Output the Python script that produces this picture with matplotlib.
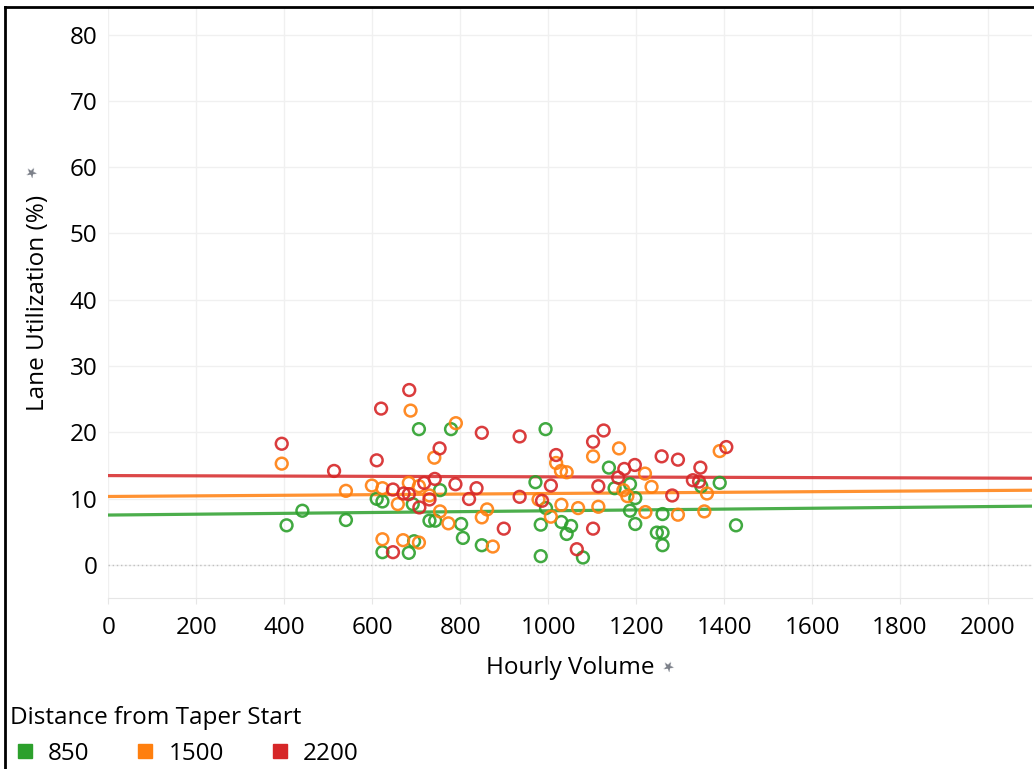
import numpy as np
import matplotlib
matplotlib.use("Agg")
import matplotlib.pyplot as plt
from matplotlib.lines import Line2D

plt.rcParams['font.family'] = ['Open Sans', 'DejaVu Sans']

# distance groups (legend) and their colours
groups = ["850", "1500", "2200"]
colors = ["#2ca02c", "#ff7f0e", "#d62728"]

# hourly volume / lane utilization (%) per group
vol_850 = [405, 441, 540, 610, 623, 706, 779, 754, 692, 730, 743, 802, 806, 849,
           623, 683, 695, 971, 994, 983, 995, 1030, 1042, 1052, 983, 1079, 1138,
           1151, 1186, 1198, 1186, 1198, 1260, 1247, 1260, 1260, 1348, 1390, 1427]
util_850 = [6.0, 8.2, 6.8, 10.0, 9.6, 20.5, 20.5, 11.3, 9.2, 6.7, 6.7, 6.2, 4.1, 3.0,
            1.95, 1.85, 3.6, 12.5, 20.5, 6.1, 8.6, 6.5, 4.7, 5.9, 1.35, 1.15, 14.7,
            11.6, 12.2, 10.1, 8.2, 6.2, 7.7, 4.9, 4.9, 3.0, 11.9, 12.4, 6.0]

vol_1500 = [394, 687, 790, 741, 540, 599, 623, 683, 706, 730, 658, 754, 773, 849,
            861, 874, 623, 670, 706, 978, 1018, 1029, 1042, 1030, 1006, 1068, 1114,
            1102, 1161, 1220, 1235, 1180, 1171, 1221, 1295, 1355, 1361, 1390]
util_1500 = [15.3, 23.3, 21.4, 16.2, 11.2, 12.0, 11.6, 12.4, 11.9, 10.5, 9.2, 8.1, 6.3, 7.2,
             8.4, 2.8, 3.9, 3.76, 3.4, 9.9, 15.4, 14.2, 14.0, 9.1, 7.3, 8.6, 8.8,
             16.4, 17.6, 13.8, 11.8, 10.4, 11.3, 8.0, 7.6, 8.1, 10.8, 17.2]

vol_2200 = [394, 684, 620, 513, 610, 753, 849, 935, 742, 718, 789, 837, 647, 671,
            683, 730, 820, 935, 707, 899, 647, 1018, 1102, 1126, 1006, 1114, 1173,
            1159, 1197, 1258, 1295, 1346, 1329, 1343, 1282, 1405, 986, 1102, 1065]
util_2200 = [18.3, 26.4, 23.6, 14.2, 15.8, 17.6, 19.95, 19.4, 13.0, 12.4, 12.2, 11.6, 11.4, 10.8,
             10.7, 9.9, 9.97, 10.3, 8.7, 5.5, 1.95, 16.6, 18.6, 20.3, 12.0, 11.9, 14.5,
             13.2, 15.1, 16.4, 15.9, 14.7, 12.8, 12.6, 10.5, 17.8, 9.7, 5.5, 2.4]

# trend lines as drawn on the chart: slope (per vehicle) and intercept
trend_slope = [0.00064, 0.00045, -0.00019]
trend_icpt = [7.55, 10.35, 13.5]

vols = [vol_850, vol_1500, vol_2200]
utils = [util_850, util_1500, util_2200]

x_ticks = list(range(0, 2001, 200))
y_ticks = list(range(0, 81, 10))

fs = 17.5

fig = plt.figure(figsize=(10.34, 7.69), dpi=100)
ax = fig.add_axes([0.1049, 0.222, 0.8931, 0.7676])

x_line = np.array([0, 2100])
for v, u, c, k, b in zip(vols, utils, colors, trend_slope, trend_icpt):
    ax.scatter(v, u, s=72, facecolors="none", edgecolors=c, linewidths=1.8, alpha=0.9, zorder=3)
    ax.plot(x_line, np.polyval([k, b], x_line), color=c, lw=2.3, alpha=0.85, zorder=2)

ax.set_xlim(0, 2100)
ax.set_ylim(-5, 84)
ax.set_xticks(x_ticks)
ax.set_yticks(y_ticks)
ax.tick_params(axis="x", length=4, color="#e6e6e6", labelsize=fs, pad=9)
ax.tick_params(axis="y", length=0, labelsize=fs, pad=8)
ax.grid(True, color="#f0f0f0", lw=1)
ax.set_axisbelow(True)
for s in ["top", "right", "left"]:
    ax.spines[s].set_visible(False)
ax.spines["bottom"].set_color("#e6e6e6")
ax.axhline(0, color="#c0c0c0", lw=1, ls=(0, (1, 2)), zorder=1)

ax.set_xlabel("Hourly Volume", fontsize=fs, labelpad=11)
ax.set_ylabel("Lane Utilization (%)", fontsize=fs, labelpad=14)

# little pin glyphs beside the axis titles
fig.text(0.031, 0.776, "\u2605", fontsize=10, color="#7a7f88", rotation=45, ha="center", va="center",
         family="DejaVu Sans")
fig.text(0.647, 0.133, "\u2605", fontsize=10, color="#7a7f88", rotation=45, ha="center", va="center",
         family="DejaVu Sans")

handles = [Line2D([], [], marker="s", ls="none", color=c, markersize=9.5) for c in colors]
leg = fig.legend(handles, groups, ncol=3, loc="lower left", bbox_to_anchor=(-0.009, -0.021),
                 title="Distance from Taper Start", frameon=False, fontsize=fs,
                 title_fontsize=fs, alignment="left", handlelength=1.2,
                 handletextpad=0.35, columnspacing=1.7, borderpad=0.3, labelspacing=0.5)

# outer frame
fig.add_artist(Line2D([0.005, 0.005], [0, 0.9905], transform=fig.transFigure, color="black", lw=2))
fig.add_artist(Line2D([0.005, 1.0], [0.9905, 0.9905], transform=fig.transFigure, color="black", lw=2))

fig.savefig("out.png", dpi=100)
